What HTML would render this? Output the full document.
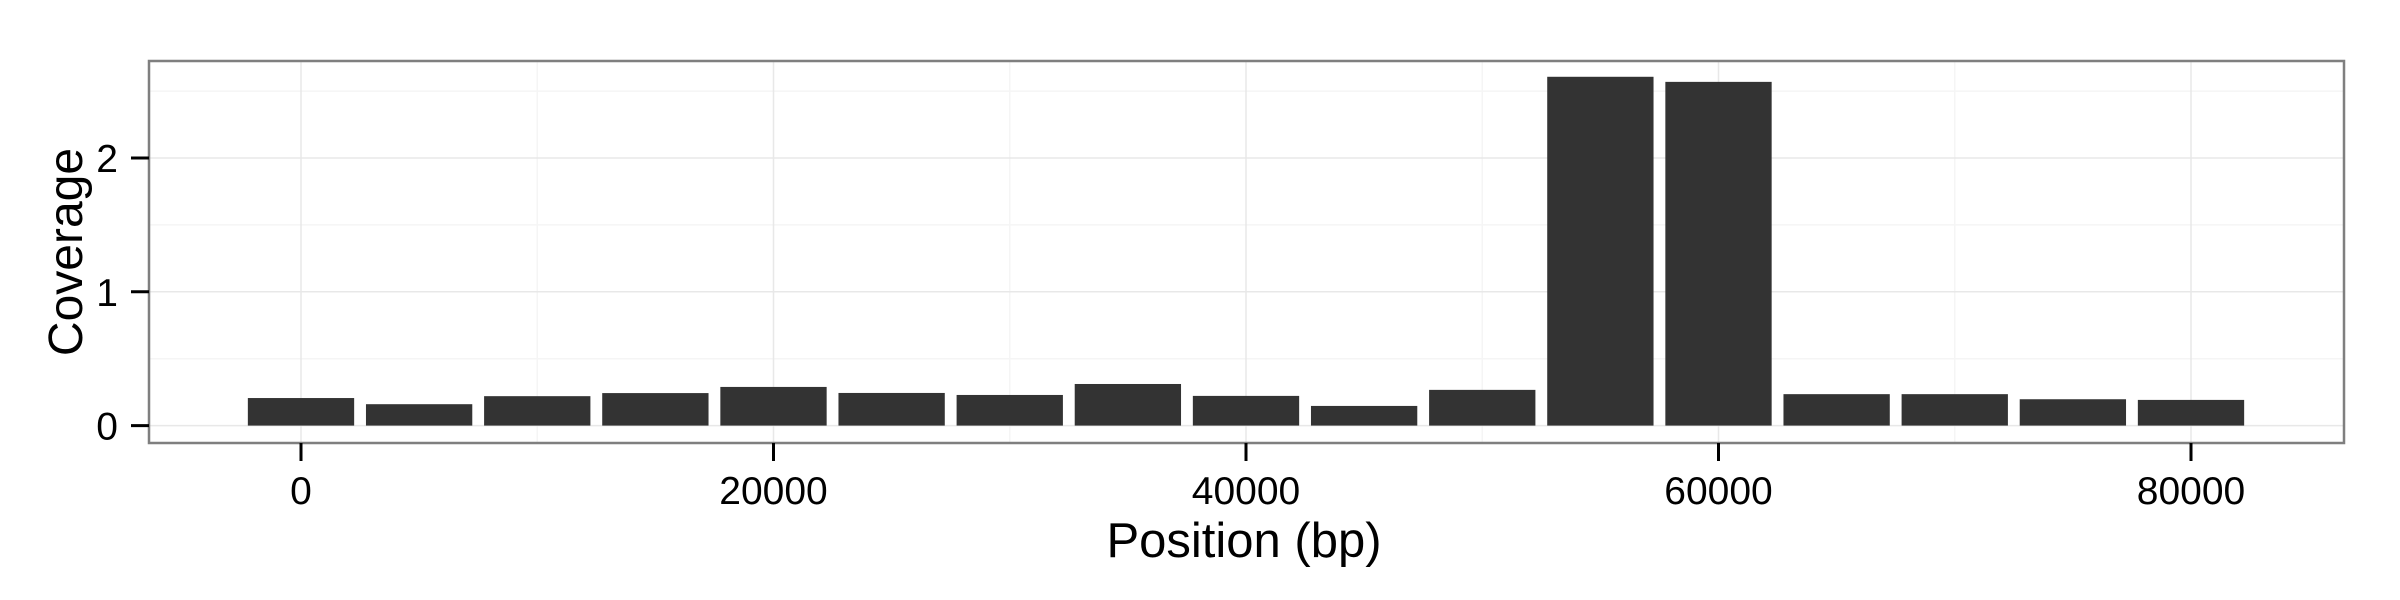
<!DOCTYPE html>
<html><head><meta charset="utf-8"><style>
html,body{margin:0;padding:0;background:#fff;}
svg{display:block;font-family:"Liberation Sans",Arial,sans-serif;}
</style></head><body>
<svg id="chart" width="2400" height="600" viewBox="0 0 2400 600" xmlns="http://www.w3.org/2000/svg">
<g id="grid"></g>
<g id="bars"></g>
<rect x="149" y="61" width="2195" height="382" fill="none" stroke="#7f7f7f" stroke-width="2.5"/>
<g id="axes"></g>
<text x="1244" y="557" font-size="49" text-anchor="middle" fill="#000">Position (bp)</text>
<text transform="translate(82,252) rotate(-90)" font-size="48" text-anchor="middle" fill="#000">Coverage</text>
</svg>
<script>
const positions = [0,5000,10000,15000,20000,25000,30000,35000,40000,45000,50000,55000,60000,65000,70000,75000,80000];
const coverage = [0.206,0.16,0.22,0.243,0.289,0.244,0.229,0.311,0.222,0.147,0.267,2.607,2.569,0.235,0.235,0.197,0.192];
const xTicks = [0,20000,40000,60000,80000];
const xTickLabels = ["0","20000","40000","60000","80000"];
const yTicks = [0,1,2];
const yTickLabels = ["0","1","2"];
const xMinor = [10000,30000,50000,70000];
const yMinor = [0.5,1.5,2.5];
const binWidth = 5000;

const PL=149, PR=2344, PT=61, PB=443;
function xs(v){ return 301 + v*(472.5/20000); }
function ys(v){ return 425.6 - v*133.8; }
const NS="http://www.w3.org/2000/svg";
function mk(tag, attrs, parent){ const e=document.createElementNS(NS,tag); for(const k in attrs) e.setAttribute(k,attrs[k]); parent.appendChild(e); return e; }
const grid=document.getElementById('grid'), barsG=document.getElementById('bars'), axes=document.getElementById('axes');
mk('rect',{x:PL,y:PT,width:PR-PL,height:PB-PT,fill:'#fff'},grid);
xMinor.forEach(v=>{ const l=mk('line',{x1:xs(v),x2:xs(v),y1:PT,y2:PB,stroke:'#f5f5f5','stroke-width':1.5},grid);

 });
yMinor.forEach(v=>{ const l=mk('line',{x1:PL,x2:PR,y1:ys(v),y2:ys(v),stroke:'#f5f5f5','stroke-width':1.5},grid);

 });
xTicks.forEach(v=>{ const l=mk('line',{x1:xs(v),x2:xs(v),y1:PT,y2:PB,stroke:'#e8e8e8','stroke-width':1.5},grid);

 });
yTicks.forEach(v=>{ const l=mk('line',{x1:PL,x2:PR,y1:ys(v),y2:ys(v),stroke:'#e8e8e8','stroke-width':1.5},grid);

 });
positions.forEach((p,i)=>{
  const w=binWidth*0.9;
  const x0=xs(p-w/2), x1=xs(p+w/2), y0=ys(0), y1=ys(coverage[i]);
  const r=mk('rect',{x:x0,y:y1,width:x1-x0,height:y0-y1,fill:'#333333'},barsG);
  
  
});
xTicks.forEach((v,i)=>{
  const t=mk('line',{x1:xs(v),x2:xs(v),y1:PB,y2:PB+18,stroke:'#000','stroke-width':3},axes);
  
  
  const tx=mk('text',{x:xs(v),y:504,'font-size':39,'text-anchor':'middle',fill:'#000'},axes);
  tx.textContent=xTickLabels[i];
  
  
});
yTicks.forEach((v,i)=>{
  const t=mk('line',{x1:PL-18,x2:PL,y1:ys(v),y2:ys(v),stroke:'#000','stroke-width':3},axes);
  
  
  const tx=mk('text',{x:118,y:ys(v)+14,'font-size':39,'text-anchor':'end',fill:'#000'},axes);
  tx.textContent=yTickLabels[i];
  
  
});
</script>
</body></html>
